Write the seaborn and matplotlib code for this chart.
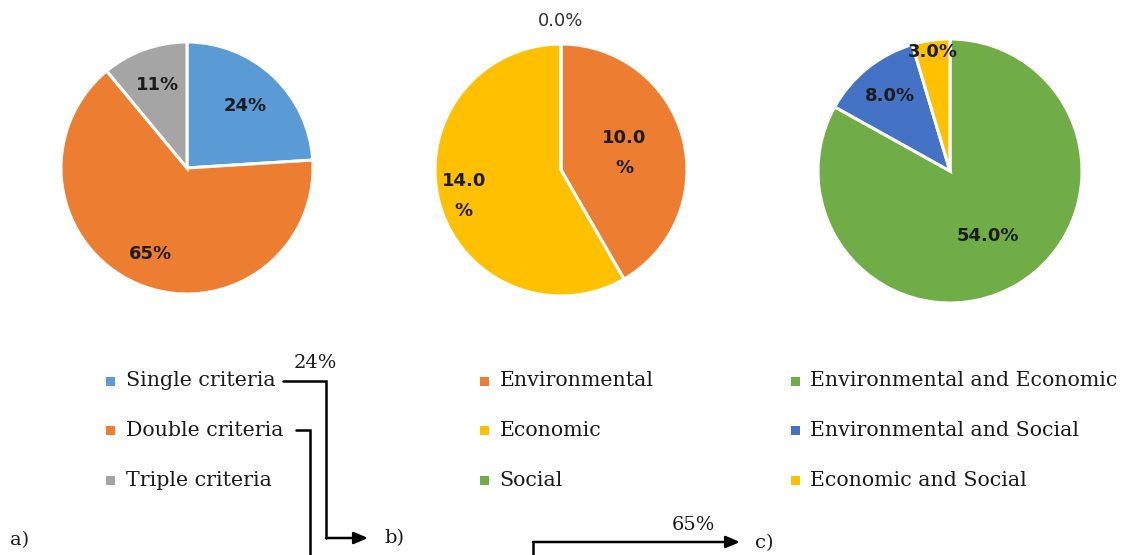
import numpy as np
import matplotlib.pyplot as plt
import seaborn as sns
from matplotlib.patches import Rectangle

# ------------------------------------------------------------
# Data
# ------------------------------------------------------------
criteria_labels = ['Single criteria', 'Double criteria', 'Triple criteria']
criteria_share = [24, 65, 11]

single_labels = ['Environmental', 'Economic', 'Social']
single_share = [10.0, 14.0, 0.0]

double_labels = ['Environmental and Economic', 'Environmental and Social',
                 'Economic and Social']
double_share = [54.0, 8.0, 3.0]

# link labels between the panels (share of the parent category)
link_single = '24%'
link_double = '65%'

# Office-like palette
criteria_colors = ['#5B9BD5', '#ED7D31', '#A5A5A5']
single_colors = ['#ED7D31', '#FFC000', '#70AD47']
double_colors = ['#70AD47', '#4472C4', '#FFC000']

W, H = 1128, 555

sns.set_theme(style='white')
plt.rcParams['font.family'] = ['DejaVu Sans']

fig = plt.figure(figsize=(W / 100, H / 100), dpi=100)
ax = fig.add_axes([0, 0, 1, 1])


def flip(y):
    # image rows -> data y
    return H - y


def draw_pie(values, colors, center, radius, texts, dists, weights=None,
             linespacing=1.2):
    wedges, _ = ax.pie(values, colors=colors, startangle=90, counterclock=False,
                       center=(center[0], flip(center[1])), radius=radius,
                       wedgeprops=dict(edgecolor='white', linewidth=2.2),
                       frame=True)
    for i, (w, t, d) in enumerate(zip(wedges, texts, dists)):
        mid = np.deg2rad((w.theta1 + w.theta2) / 2)
        x = center[0] + d * radius * np.cos(mid)
        y = flip(center[1]) + d * radius * np.sin(mid)
        fw = 'bold' if weights is None else weights[i]
        ax.text(x, y, t, ha='center', va='center', fontsize=13,
                fontweight=fw, color='#1c1c1c' if fw == 'bold' else '#333333',
                linespacing=linespacing)


# a) split by number of criteria
draw_pie(criteria_share, criteria_colors, (187, 168), 126,
         [f'{v}%' for v in criteria_share], [0.67, 0.74, 0.70])

# b) single criterion
draw_pie(single_share, single_colors, (561, 170), 126,
         [f'{v:.1f}\n%' if v > 0 else f'{v:.1f}%' for v in single_share],
         [0.52, 0.80, 1.18], weights=['bold', 'bold', 'normal'],
         linespacing=1.9)

# c) double criteria
draw_pie(double_share, double_colors, (950, 171), 132,
         [f'{v:.1f}%' for v in double_share], [0.57, 0.73, 0.91])


def draw_legend(labels, colors, x, ys):
    for lab, col, y in zip(labels, colors, ys):
        ax.add_patch(Rectangle((x - 4.5, flip(y) - 4.5), 9, 9, color=col, lw=0))
        ax.text(x + 15.5, flip(y), lab, ha='left', va='center', fontsize=14.8,
                family='DejaVu Serif', color='#1a1a1a')


rows = [381, 430, 480]
draw_legend(criteria_labels, criteria_colors, 110, rows)
draw_legend(single_labels, single_colors, 484, rows)
draw_legend(double_labels, double_colors, 795, rows)

# connectors
line_kw = dict(color='black', lw=1.8, solid_joinstyle='miter')
arrow_kw = dict(arrowstyle='-|>,head_length=0.7,head_width=0.3', color='black',
                lw=1.8, shrinkA=0, shrinkB=0)

ax.plot([283, 326, 326], [flip(381), flip(381), flip(538)], **line_kw)
ax.annotate('', xy=(368, flip(538)), xytext=(326, flip(538)), arrowprops=arrow_kw)
ax.plot([296, 310, 310], [flip(430), flip(430), flip(565)], **line_kw)
ax.plot([533, 533], [flip(565), flip(542)], **line_kw)
ax.annotate('', xy=(740, flip(542)), xytext=(533, flip(542)), arrowprops=arrow_kw)

serif = dict(family='DejaVu Serif', fontsize=14, color='#1a1a1a')
ax.text(315, flip(363), link_single, ha='center', va='center', **serif)
ax.text(693, flip(525), link_double, ha='center', va='center', **serif)
ax.text(10, flip(540), 'a)', ha='left', va='center', **serif)
ax.text(384, flip(538), 'b)', ha='left', va='center', **serif)
ax.text(755, flip(543), 'c)', ha='left', va='center', **serif)

ax.set_xlim(0, W)
ax.set_ylim(0, H)
ax.set_aspect('equal')
ax.axis('off')

fig.savefig('out.png', dpi=100, facecolor='white')
